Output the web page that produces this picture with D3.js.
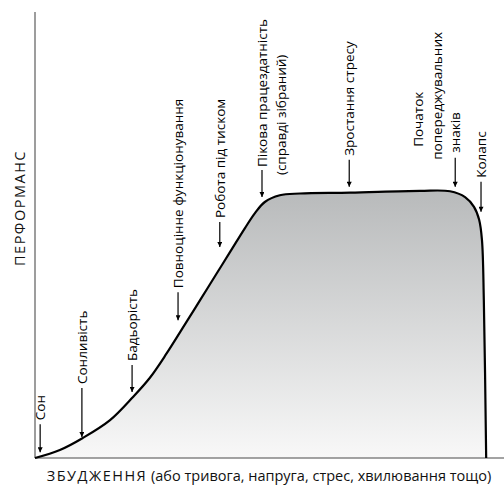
<!DOCTYPE html>
<html lang="uk">
<head>
<meta charset="UTF-8">
<title>Крива Єркса–Додсона</title>
<style>
    body { margin: 0; background: #fff; }
    svg { display: block; font-family: "Open Sans", "Noto Sans", sans-serif; }
    .axis-line { stroke: #858585; stroke-width: 1.6px; }
    .curve { fill: none; stroke: #000; stroke-width: 2.2px; }
    .arrow { stroke: #000; stroke-width: 1.2px; }
    .note { font-size: 13.5px; fill: #000; }
    .title { font-size: 14.5px; fill: #111; }
</style>
</head>
<body>
<svg id="chart" width="504" height="485"></svg>
<script src="https://d3js.org/d3.v7.min.js"></script>
<script>
// крива: збудження (x) -> перформанс (y), у відсотках шкали
const arousal     = [0, 5.3, 10.2, 16.0, 20.9, 24.5, 28.1, 32.0, 35.2, 38.4, 41.6, 44.8, 46.9, 49.0, 52.2, 56.5, 67.2, 82.1, 88.5, 91.7, 93.6, 94.7, 95.3, 95.7, 96.2];
const performance = [0, 1.8, 4.5, 8.5, 13.7, 18.0, 23.5, 30.0, 35.4, 40.8, 46.2, 51.6, 54.9, 57.4, 58.9, 59.3, 59.5, 59.9, 59.8, 58.5, 56.3, 53.4, 48.9, 35.4, 0];

// підписи стрілок
const noteLines = [
    ['Сон'],
    ['Сонливість'],
    ['Бадьорість'],
    ['Повноцінне функціонування'],
    ['Робота під тиском'],
    ['Пікова працездатність', '(справді зібраний)'],
    ['Зростання стресу'],
    ['Початок', 'попереджувальних', 'знаків'],
    ['Колапс']
];
const noteArousal = [1.1, 10.0, 20.7, 30.5, 39.4, 48.4, 67.0, 89.6, 95.1];
const notePerf    = [1.3, 4.7, 14.8, 30.9, 47.3, 58.5, 60.8, 60.8, 55.2];

const yTitle = 'ПЕРФОРМАНС';
const xTitleCaps = 'ЗБУДЖЕННЯ';
const xTitleRest = ' (або тривога, напруга, стрес, хвилювання тощо)';

const svg = d3.select('#chart');
const x = d3.scaleLinear().domain([0, 100]).range([35, 504]);
const y = d3.scaleLinear().domain([0, 100]).range([458, 12]);

const pts = arousal.map((a, i) => [a, performance[i]]);

// градієнт заливки
const grad = svg.append('defs').append('linearGradient')
    .attr('id', 'fillGrad')
    .attr('gradientUnits', 'userSpaceOnUse')
    .attr('x1', 0).attr('x2', 0)
    .attr('y1', y(60)).attr('y2', y(0));
grad.append('stop').attr('offset', 0).attr('stop-color', '#b8babb');
grad.append('stop').attr('offset', 1).attr('stop-color', '#f8f8f8');

const area = d3.area()
    .x(d => x(d[0]))
    .y0(y(0))
    .y1(d => y(d[1]))
    .curve(d3.curveCatmullRom.alpha(0.5));

const line = d3.line()
    .x(d => x(d[0]))
    .y(d => y(d[1]))
    .curve(d3.curveCatmullRom.alpha(0.5));

svg.append('path').datum(pts).attr('d', area).attr('fill', 'url(#fillGrad)');

// осі
svg.append('line').attr('class', 'axis-line')
    .attr('x1', x(0)).attr('x2', x(0)).attr('y1', y(100)).attr('y2', y(0));
svg.append('line').attr('class', 'axis-line')
    .attr('x1', x(0)).attr('x2', x(100)).attr('y1', y(0)).attr('y2', y(0));

svg.append('path').datum(pts).attr('class', 'curve').attr('d', line);

// розмітка підписів: довжина стрілки та зсув рядків (dx, відступ від верху стрілки)
const arrowLen = [28, 49, 27, 28, 25, 27, 27, 29, 30];
const lineShift = {
    5: [[0, 3], [19, -5]],
    7: [[-37, 11], [-18, -2], [0, 5]]
};

svg.append('defs').append('marker')
    .attr('id', 'head')
    .attr('viewBox', '0 0 10 10')
    .attr('refX', 10).attr('refY', 5)
    .attr('markerWidth', 7).attr('markerHeight', 5)
    .attr('markerUnits', 'userSpaceOnUse')
    .attr('orient', 'auto')
    .append('path').attr('d', 'M0,0L10,5L0,10Z').attr('fill', '#000');

const notes = svg.append('g');
noteLines.forEach((lines, i) => {
    const ax = x(noteArousal[i]);
    const tip = y(notePerf[i]);
    const top = tip - arrowLen[i];
    notes.append('line').attr('class', 'arrow')
        .attr('x1', ax).attr('x2', ax)
        .attr('y1', top).attr('y2', tip)
        .attr('marker-end', 'url(#head)');
    const shifts = lineShift[i] || [[0, 4]];
    lines.forEach((t, j) => {
        const [dx, gap] = shifts[j];
        notes.append('text').attr('class', 'note')
            .attr('transform', `translate(${ax + dx},${top - gap}) rotate(-90)`)
            .attr('dy', '0.35em')
            .text(t);
    });
});

// назви осей
svg.append('text').attr('class', 'title')
    .attr('transform', `translate(20,${208}) rotate(-90)`)
    .attr('text-anchor', 'middle')
    .attr('dy', '0.35em')
    .attr('letter-spacing', '1.5px')
    .text(yTitle);

const xt = svg.append('text').attr('class', 'title')
    .attr('x', 269).attr('y', 481)
    .attr('text-anchor', 'middle');
xt.append('tspan').attr('letter-spacing', '1.5px').text(xTitleCaps);
xt.append('tspan').text(xTitleRest);
</script>
</body>
</html>
